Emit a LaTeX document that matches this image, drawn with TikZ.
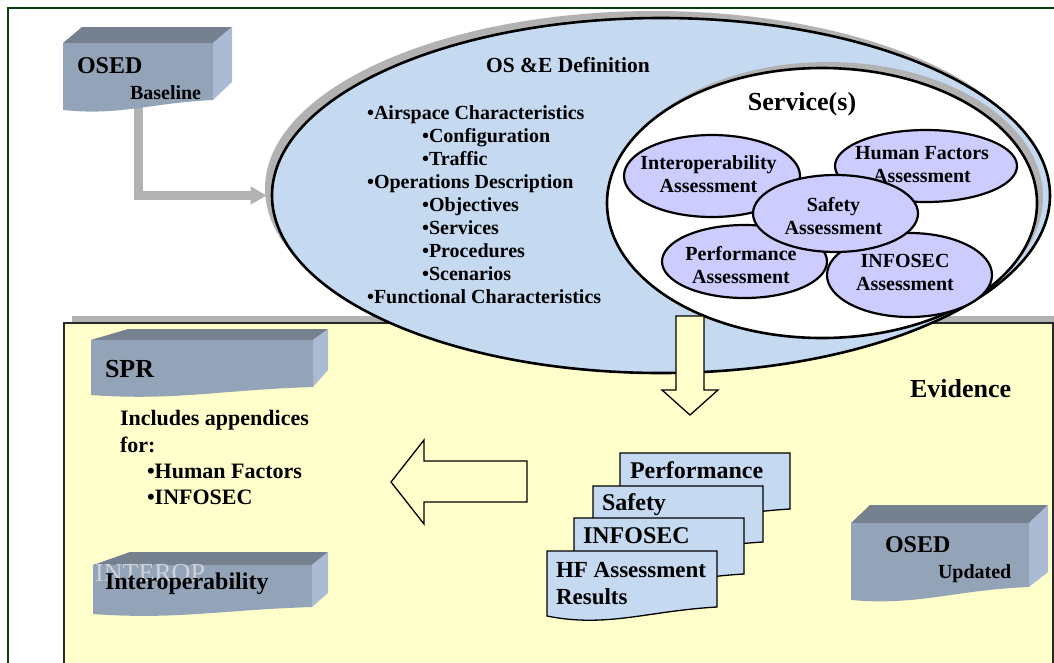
\documentclass[tikz,border=0pt]{standalone}
\usepackage{fontspec}
\setmainfont{Liberation Serif}
\usetikzlibrary{arrows.meta,shapes.geometric,calc}

\definecolor{framegreen}{RGB}{12,60,12}
\definecolor{boxfront}{RGB}{148,164,184}
\definecolor{boxtop}{RGB}{118,129,144}
\definecolor{boxside}{RGB}{170,187,211}
\definecolor{paleblue}{RGB}{197,217,241}
\definecolor{lavender}{RGB}{204,204,255}
\definecolor{paleyellow}{RGB}{255,255,204}
\definecolor{shadegray}{RGB}{178,178,178}
\definecolor{ghostgray}{RGB}{205,209,217}
\definecolor{panelline}{RGB}{40,40,40}

\newcommand\fsz[2]{\fontsize{#1}{#2}\selectfont}

% slab-shaped box: front face with a wavy foot, a top face and a right side face
% #1 left x, #2 front top y, #3 right x, #4 foot y at left, #5 foot y at right,
% #6 back-left x, #7 back top y, #8 back-right x, #9 side foot y
\newcommand\slabbox[9]{%
  \fill[boxtop] (#1,#2) -- (#6,#7) -- (#8,#7) -- (#3,#2) -- cycle;
  \fill[boxside] (#3,#2) -- (#8,#7) -- (#8,#9) -- (#3,#5) -- cycle;
  \fill[boxfront] (#1,#2) -- (#3,#2) -- (#3,#5)
     .. controls ($(#3,#5)!0.42!(#1,#5)+(0,3)$) and ($(#1,#4)!0.38!(#3,#4)+(0,6)$) .. (#1,#4) -- cycle;
}

% report sheet with a wavy lower edge, #1 left x, #2 top y
\newcommand\docsheet[2]{%
  \draw[sheet] (#1,#2) -- ++(170,0) -- ++(0,56)
     .. controls +(-70,4) and +(60,12) .. ($(#1,#2)+(0,65)$) -- cycle;
}

\tikzset{
  txt/.style={inner sep=0pt, outer sep=0pt, anchor=base west, font={\fsz{#1}{#1}\bfseries}},
  ctxt/.style={inner sep=0pt, outer sep=0pt, anchor=base, font={\fsz{#1}{#1}\bfseries}},
  intxt/.style={inner sep=0pt, align=center, font={\fsz{20}{23}\bfseries}},
  assess/.style={ellipse, draw=black, line width=2.2pt, fill=lavender, inner sep=0pt},
  bigoval/.style={ellipse, inner sep=0pt, minimum width=778pt, minimum height=355pt},
  svcoval/.style={ellipse, inner sep=0pt, minimum width=430pt, minimum height=270pt},
  blockarrow/.style={draw=black, fill=paleyellow, line width=1.3pt, line join=miter},
  sheet/.style={draw=black, fill=paleblue, line width=1.3pt},
  graylink/.style={draw=shadegray, line width=9pt,
    -{Triangle[length=16pt,width=17pt]}, shorten >=4pt},
}

\begin{document}
\begin{tikzpicture}[x=1pt,y=-1pt]
\useasboundingbox (0,0) rectangle (1054,662);

% outer frame
\draw[framegreen, line width=2pt] (8,666) -- (8,8) -- (1058,8);

% evidence panel and its shadow
\fill[shadegray] (72,316) rectangle (1058,330);
\draw[panelline, line width=1.5pt, fill=paleyellow] (64,323) rectangle (1053,668);

% OS&E definition oval
\node[bigoval, fill=shadegray] (defnshade) at (654,188.5) {};
\node[bigoval, draw=black, line width=2.6pt, fill=paleblue] (defn) at (661,195.5) {};
\node[ctxt=21.5] (defntitle) at (568,72) {OS \&E Definition};

\foreach \t/\x/\y [count=\i] in {
  {•Airspace Characteristics}/367/119,
  {•Configuration}/422/142,
  {•Traffic}/422/165,
  {•Operations Description}/367/188,
  {•Objectives}/422/211,
  {•Services}/422/234,
  {•Procedures}/422/257,
  {•Scenarios}/422/280,
  {•Functional Characteristics}/367/303}
  \node[txt=20] (item\i) at (\x,\y) {\t};

% services oval
\node[svcoval, fill=shadegray] (svcshade) at (828,197) {};
\node[svcoval, draw=black, line width=2.6pt, fill=white] (svc) at (822,203) {};
\node[ctxt=26] (svctitle) at (802,110) {Service(s)};

% assessments
\node[assess, minimum width=176pt, minimum height=82pt] (interop) at (712,176) {};
\node[intxt] (interoptxt) at (708.5,174.6) {Interoperability\\Assessment};
\node[assess, minimum width=182pt, minimum height=72pt] (hf) at (926,166) {};
\node[intxt] (hftxt) at (922,165) {Human Factors\\Assessment};
\node[assess, minimum width=165pt, minimum height=73pt] (perf) at (744.5,261.5) {};
\node[intxt] (perftxt) at (741,264.6) {Performance\\Assessment};
\node[assess, minimum width=165pt, minimum height=84pt] (infosec) at (909.5,275) {};
\node[intxt] (infosectxt) at (905,272.9) {INFOSEC\\Assessment};
\node[assess, minimum width=165pt, minimum height=77pt] (safety) at (835.5,213.5) {};
\node[intxt] (safetytxt) at (833.5,216) {Safety\\Assessment};

% flow from the definition down to the evidence
\draw[blockarrow] (676,316) -- (704,316) -- (704,390) -- (718,390) -- (690,415)
  -- (662,390) -- (676,390) -- cycle;

% baseline OSED feeding the definition
\coordinate (osedfoot) at (138,104);
\draw[graylink] (osedfoot) |- (defn.west);
\slabbox{63}{43}{213}{110}{100}{82}{27}{232}{82}
\node[txt=24] (osedbase) at (77,73) {OSED};
\node[txt=20] (osedbasesub) at (130,99) {Baseline};

% evidence panel contents
\node[txt=26] (evidence) at (910,397) {Evidence};

\slabbox{91}{340}{313}{395}{387}{128}{329}{328}{370}
\node[txt=26] (spr) at (105,377) {SPR};
\node[txt=22] (incl1) at (120,425) {Includes appendices};
\node[txt=22] (incl2) at (120,452) {for:};
\node[txt=22] (incl3) at (147,478) {•Human Factors};
\node[txt=22] (incl4) at (147,504) {•INFOSEC};

\slabbox{93}{565}{312}{614}{607}{130}{552}{328}{593}
\node[inner sep=0pt, anchor=base west, font={\fsz{26}{26}}, text=ghostgray] (interopghost) at (95,581) {INTEROP};
\node[txt=24] (interopdoc) at (105,589) {Interoperability};

\draw[blockarrow] (527,461) -- (527,502) -- (424,502) -- (424,524) -- (391,482)
  -- (424,440) -- (424,461) -- cycle;

% stacked assessment results
\docsheet{620}{453}
\node[txt=24] (resperf) at (630,478) {Performance};
\docsheet{593}{486}
\node[txt=24] (ressafety) at (602,510) {Safety};
\docsheet{574}{518}
\node[txt=24] (resinfosec) at (583,543) {INFOSEC};
\docsheet{547}{551}
\node[txt=23] (reshf) at (556,577) {HF Assessment};
\node[txt=23] (reshf2) at (556,604) {Results};

% updated OSED
\slabbox{851}{523}{1029}{600}{587}{870}{505}{1048}{572}
\node[txt=24] (osedupd) at (885,552) {OSED};
\node[txt=20] (osedupdsub) at (938,578) {Updated};
\end{tikzpicture}
\end{document}
